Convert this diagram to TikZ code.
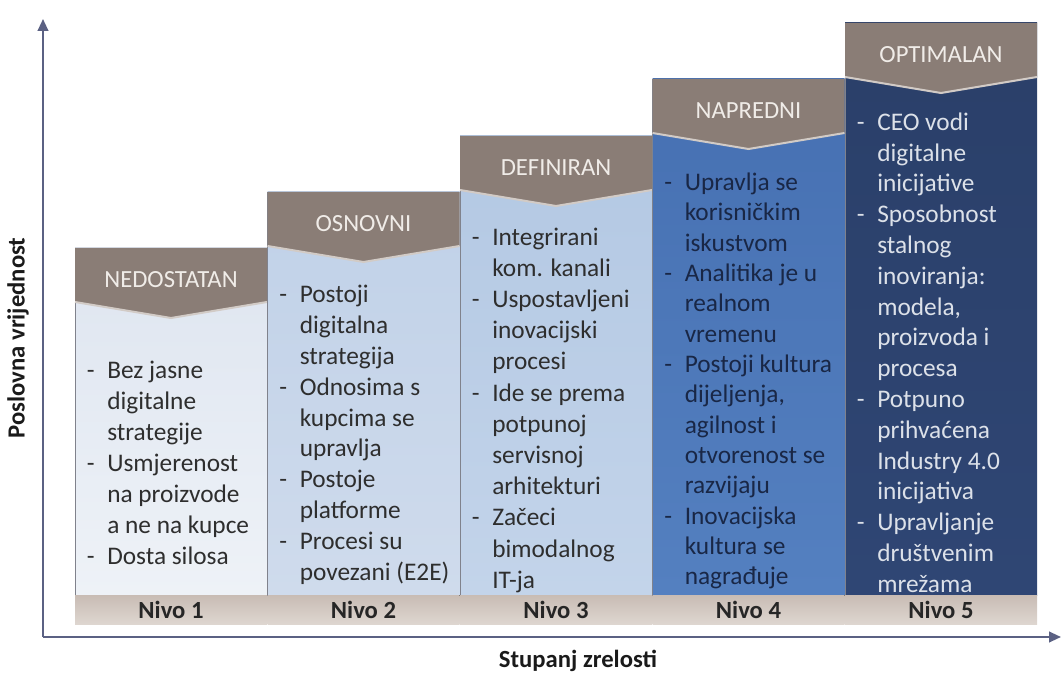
\documentclass[tikz,border=0pt]{standalone}
\usepackage{fontspec}
\setmainfont{Carlito}
\usetikzlibrary{arrows.meta}
\usetikzlibrary{positioning}
\definecolor{headgray}{HTML}{8A7D76}
\definecolor{headedge}{HTML}{D2CBC6}
\definecolor{headtext}{HTML}{F0ECE8}
\definecolor{foottop}{HTML}{C8BCB4}
\definecolor{footbot}{HTML}{DED6D0}
\definecolor{foottext}{HTML}{262626}
\definecolor{coledge}{HTML}{80828C}
\definecolor{axisblue}{HTML}{5B6183}
\definecolor{labeltext}{HTML}{1A1A1A}
\definecolor{bodydark}{HTML}{2E2E2E}
\definecolor{navytext}{HTML}{192746}
\definecolor{palettext}{HTML}{DCE1E9}
\definecolor{lvlAtop}{HTML}{DEE5F0}
\definecolor{lvlAbot}{HTML}{EEF2F7}
\definecolor{lvlBtop}{HTML}{C0D1E8}
\definecolor{lvlBbot}{HTML}{CFDBEC}
\definecolor{lvlCtop}{HTML}{B3C8E3}
\definecolor{lvlCbot}{HTML}{C3D4EA}
\definecolor{lvlDtop}{HTML}{4670B2}
\definecolor{lvlDbot}{HTML}{5480C0}
\definecolor{lvlEtop}{HTML}{2A3F69}
\definecolor{lvlEbot}{HTML}{2F4674}
\tikzset{head box/.style={fill=headgray},
    head edge/.style={draw=headedge, line width=1.5pt},
    col edge/.style={draw=coledge, line width=0.6pt},
    foot box/.style={top color=foottop, bottom color=footbot},
    head text/.style={text=headtext, inner sep=0pt,
    font=\fontsize{18.5}{22}\selectfont},
    foot text/.style={text=foottext, inner sep=0pt,
    font=\bfseries\fontsize{18.5}{22}\selectfont},
    level text/.style={inner sep=0pt, anchor=north west, align=left,
    font=\fontsize{19}{#1}\selectfont},
    axis line/.style={draw=axisblue, line width=1.5pt},
    axis label/.style={text=labeltext, inner sep=0pt,
    font=\bfseries\fontsize{18.5}{22}\selectfont}}
\newcommand{\lvldash}{\llap{-\hspace{9.5pt}}}
% #1 number, #2 left, #3 top, #4 title, #5 and #6 body colours
\newcommand{\levelcol}[6]{%
    \fill[top color=#5, bottom color=#6] (#2,#3) rectangle ({#2+192},595);
    \draw[col edge] (#2,#3) -- (#2,624);
    \fill[head box] (#2,#3) -- ({#2+192},#3) -- ({#2+192},{#3+54})
    -- ({#2+96},{#3+70}) -- (#2,{#3+54}) -- cycle;
    \draw[head edge] ({#2+192},{#3+54}) -- ({#2+96},{#3+70}) -- (#2,{#3+54});
    \fill[foot box] (#2,595) rectangle ({#2+192},624);
    \node[head text] (h#1) at ({#2+96},{#3+32}) {#4};
    \node[foot text] (n#1) at ({#2+96},610) {Nivo #1};
}

\begin{document}
\begin{tikzpicture}[x=0.75pt,y=-0.75pt]
    \useasboundingbox (0,0) rectangle (1061,673);

    % axes
    \coordinate (origin) at (43,637);
    \coordinate (ytop) at (43,19);
    \coordinate (xend) at (1061,637);
    \draw[axis line, -{Triangle[length=9pt,width=8pt]}] (origin) -- (ytop);
    \draw[axis line, -{Triangle[length=9pt,width=8pt]}] (origin) -- (xend);
    \node[axis label, rotate=90] (ylab) at (18,338) {Poslovna vrijednost};
    \node[axis label] (xlab) at (578,661) {Stupanj zrelosti};

    % levels
    \levelcol{1}{75}{248}{NEDOSTATAN}{lvlAtop}{lvlAbot}
    \levelcol{2}{267.5}{192}{OSNOVNI}{lvlBtop}{lvlBbot}
    \levelcol{3}{460}{136}{DEFINIRAN}{lvlCtop}{lvlCbot}
    \levelcol{4}{652.5}{79}{NAPREDNI}{lvlDtop}{lvlDbot}
    \levelcol{5}{845}{23}{OPTIMALAN}{lvlEtop}{lvlEbot}

    \node[level text=23.25pt, text=bodydark] (b1) at (107,357)
    {\strut\lvldash Bez jasne\\digitalne\\strategije\\
    \lvldash Usmjerenost\\na proizvode\\a ne na kupce\\
    \lvldash Dosta silosa};
    \node[level text=23.1pt, text=bodydark] (b2) at (299.5,281)
    {\strut\lvldash Postoji\\digitalna\\strategija\\
    \lvldash Odnosima s\\kupcima se\\upravlja\\
    \lvldash Postoje\\platforme\\
    \lvldash Procesi su\\povezani (E2E)};
    \node[level text=23.4pt, text=bodydark] (b3) at (492,223)
    {\strut\lvldash Integrirani\\kom. kanali\\
    \lvldash Uspostavljeni\\inovacijski\\procesi\\
    \lvldash Ide se prema\\potpunoj\\servisnoj\\arhitekturi\\
    \lvldash Začeci\\bimodalnog\\IT-ja};
    \node[level text=22.75pt, text=navytext] (b4) at (684.5,169)
    {\strut\lvldash Upravlja se\\korisničkim\\iskustvom\\
    \lvldash Analitika je u\\realnom\\vremenu\\
    \lvldash Postoji kultura\\dijeljenja,\\agilnost i\\otvorenost se\\razvijaju\\
    \lvldash Inovacijska\\kultura se\\nagrađuje};
    \node[level text=23.1pt, text=palettext] (b5) at (877,108.5)
    {\strut\lvldash CEO vodi\\digitalne\\inicijative\\
    \lvldash Sposobnost\\stalnog\\inoviranja:\\modela,\\proizvoda i\\procesa\\
    \lvldash Potpuno\\prihvaćena\\Industry 4.0\\inicijativa\\
    \lvldash Upravljanje\\društvenim\\mrežama};
\end{tikzpicture}
\end{document}
